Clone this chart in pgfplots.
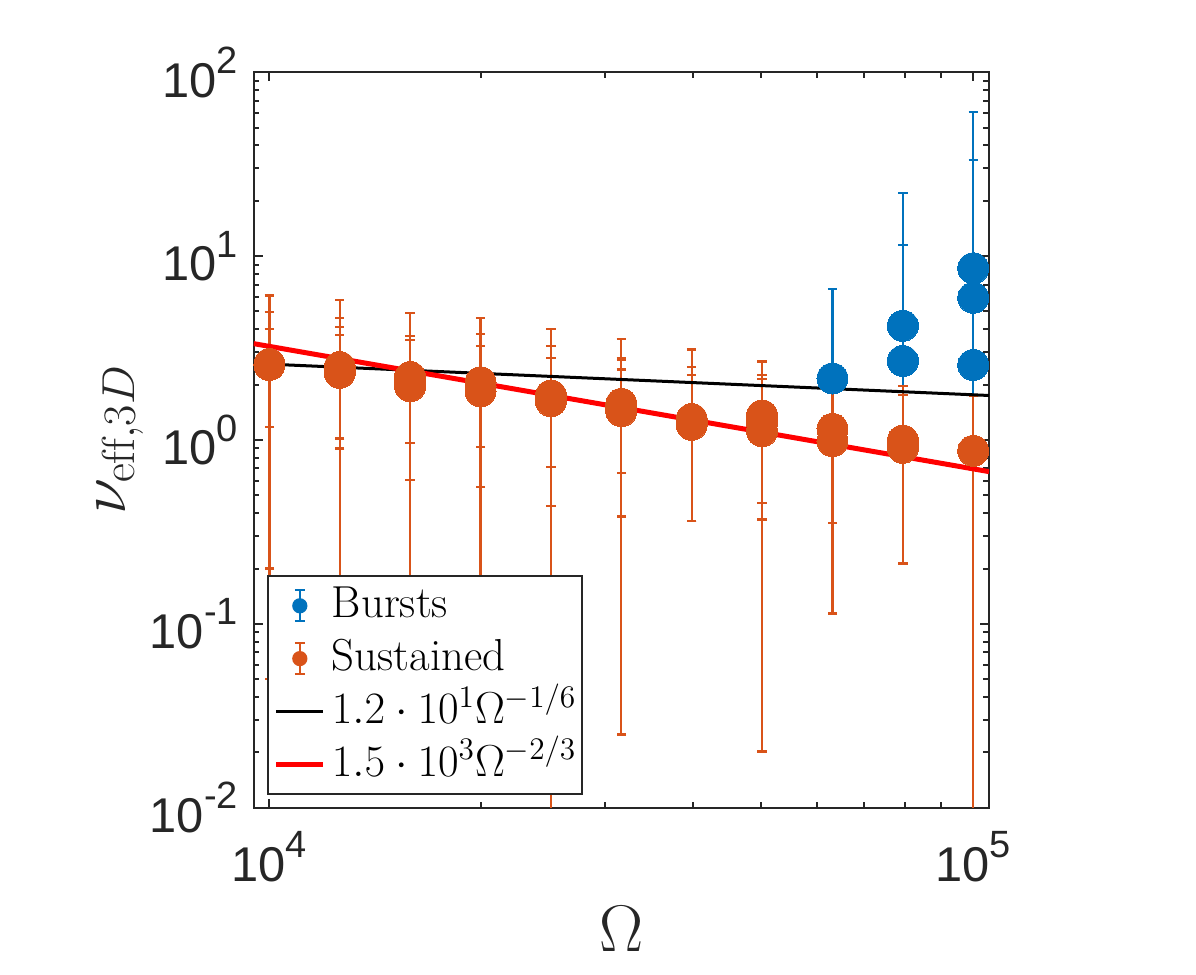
\documentclass[border=0pt]{standalone}
\usepackage{fix-cm}
\usepackage{fontspec}
\usepackage{pgfplots}
\pgfplotsset{compat=1.18}
\newfontfamily\arial{Liberation Sans}
\definecolor{mblue}{rgb}{0,0.447,0.741}
\definecolor{morange}{rgb}{0.85,0.325,0.098}
\definecolor{axgray}{rgb}{0.15,0.15,0.15}
\newcommand{\tl}[1]{{\arial\fontsize{24.4pt}{24.4pt}\selectfont 10\raisebox{11.85pt}{\fontsize{19pt}{19pt}\selectfont #1}}}
\begin{document}
\begin{tikzpicture}
\begin{axis}[
  at={(0pt,0pt)}, anchor=south west,
  scale only axis, width=367.65pt, height=367.7pt,
  xmode=log, ymode=log,
  xmin=9500, xmax=105300, ymin=1e-2, ymax=1e2,
  tick align=inside,
  major tick length=4.5pt, minor tick length=2.8pt,
  axis line style={draw=axgray, line width=1pt},
  every tick/.style={draw=axgray, line width=1pt},
  xtick={1e4,1e5}, xticklabels={\tl{4},\tl{5}},
  minor xtick={2e4,3e4,4e4,5e4,6e4,7e4,8e4,9e4},
  ytick={1e-2,1e-1,1,10,100},
  yticklabels={\tl{-2},\tl{-1},\tl{0},\tl{1},\tl{2}},
  minor ytick={0.02,0.03,0.04,0.05,0.06,0.07,0.08,0.09,0.2,0.3,0.4,0.5,0.6,0.7,0.8,0.9,2,3,4,5,6,7,8,9,20,30,40,50,60,70,80,90},
  xticklabel style={anchor=north, inner sep=0pt, yshift=-11.7pt, text=axgray},
  yticklabel style={anchor=east, inner sep=0pt, xshift=-7.7pt, text=axgray},
  xlabel={$\Omega$},
  xlabel style={at={(axis description cs:0.5,-0.19486)}, anchor=base, inner sep=0pt, font=\fontsize{33pt}{40pt}\selectfont, text=axgray},
  ylabel={$\nu_{\mathrm{eff},3D}$},
  ylabel style={at={(axis description cs:-0.17503,0.5)}, anchor=base, inner sep=0pt, font=\fontsize{33pt}{40pt}\selectfont, text=axgray},
  legend cell align=left,
  legend style={at={(0.0185,0.3164)}, anchor=north west, draw=axgray, line width=1pt, fill=white,
    font=\fontsize{22.4pt}{26pt}\selectfont, inner xsep=2.7pt, inner ysep=3.9pt,
    row sep=4.4pt, column sep=3pt,
    nodes={inner sep=0pt, text height=17pt, text depth=5pt}},
]
% Bursts
\addplot[only marks, mark=*, mark size=7.75pt, color=mblue, mark options={fill=mblue, draw=mblue, line width=0pt},
  legend image code/.code={
    \draw[mblue, line width=1.15pt] (11.8pt,-7.75pt) -- (11.8pt,7.75pt);
    \draw[mblue, line width=1.15pt] (9.3pt,-7.75pt) -- (14.3pt,-7.75pt);
    \draw[mblue, line width=1.15pt] (9.3pt,7.75pt) -- (14.3pt,7.75pt);
    \fill[mblue] (11.8pt,0pt) circle (3.3pt);},
  error bars/.cd, y dir=both, y explicit,
  error bar style={line width=1.15pt, mblue},
  error mark options={rotate=90, mark size=2.35pt, line width=1.15pt, mblue}]
table[x=x, y=y, y error plus=ep, y error minus=em]{
x y ep em
63096 2.16 4.46 0.26
79433 4.18 17.92 3.18
79433 2.69 8.81 1.69
100000 8.59 52.01 8.589
100000 5.94 27.36 5.939
100000 2.56 2.44 2.559
};
\addlegendentry{Bursts}
% Sustained
\addplot[only marks, mark=*, mark size=7.75pt, color=morange, mark options={fill=morange, draw=morange, line width=0pt},
  legend image code/.code={
    \draw[morange, line width=1.15pt] (11.8pt,-7.75pt) -- (11.8pt,7.75pt);
    \draw[morange, line width=1.15pt] (9.3pt,-7.75pt) -- (14.3pt,-7.75pt);
    \draw[morange, line width=1.15pt] (9.3pt,7.75pt) -- (14.3pt,7.75pt);
    \fill[morange] (11.8pt,0pt) circle (3.3pt);},
  error bars/.cd, y dir=both, y explicit,
  error bar style={line width=1.15pt, morange},
  error mark options={rotate=90, mark size=2.35pt, line width=1.15pt, morange}]
table[x=x, y=y, y error plus=ep, y error minus=em]{
x y ep em
10000 2.56 3.54 2.51
10000 2.575 2.375 2.375
10000 2.59 1.41 1.41
12589 2.49 3.29 2.44
12589 2.40 2.19 2.34
12589 2.49 1.64 1.59
12589 2.32 1.40 1.30
15849 2.20 2.69 2.15
15849 2.10 1.58 1.495
15849 1.96 1.54 0.994
19953 2.06 2.53 2.01
19953 1.95 1.81 1.397
19953 1.84 1.40 0.92
25119 1.746 2.254 1.745
25119 1.70 1.54 1.262
25119 1.625 1.175 0.914
31623 1.573 1.957 0.914
31623 1.50 1.30 1.475
31623 1.435 1.285 1.052
31623 1.50 0.92 0.841
39811 1.30 1.81 0.936
39811 1.25 1.24 0.886
39811 1.21 1.05 0.846
50119 1.36 0.90 0.991
50119 1.116 1.024 0.662
50119 1.24 1.43 1.2198
63096 1.15 0.80 0.796
63096 0.985 1.275 0.871
79433 0.993 0.767 0.78
79433 0.907 1.063 0.694
100000 0.873 0.872 0.872
};
\addlegendentry{Sustained}
\addplot[black, line width=1.5pt, legend image code/.code={\draw[black, line width=1.5pt] (0pt,0pt) -- (23.6pt,0pt);}]
  coordinates {(9500,2.6075) (105300,1.7464)};
\addlegendentry{$1.2\cdot10^{1}\Omega^{-1/6}$}
\addplot[red, line width=2.5pt, legend image code/.code={\draw[red, line width=2.5pt] (0pt,0pt) -- (23.6pt,0pt);}]
  coordinates {(9500,3.3422) (105300,0.67298)};
\addlegendentry{$1.5\cdot10^{3}\Omega^{-2/3}$}
\end{axis}
\path[use as bounding box] (-126.85pt,-83.65pt) rectangle (471.15pt,403.85pt);
\end{tikzpicture}
\end{document}
